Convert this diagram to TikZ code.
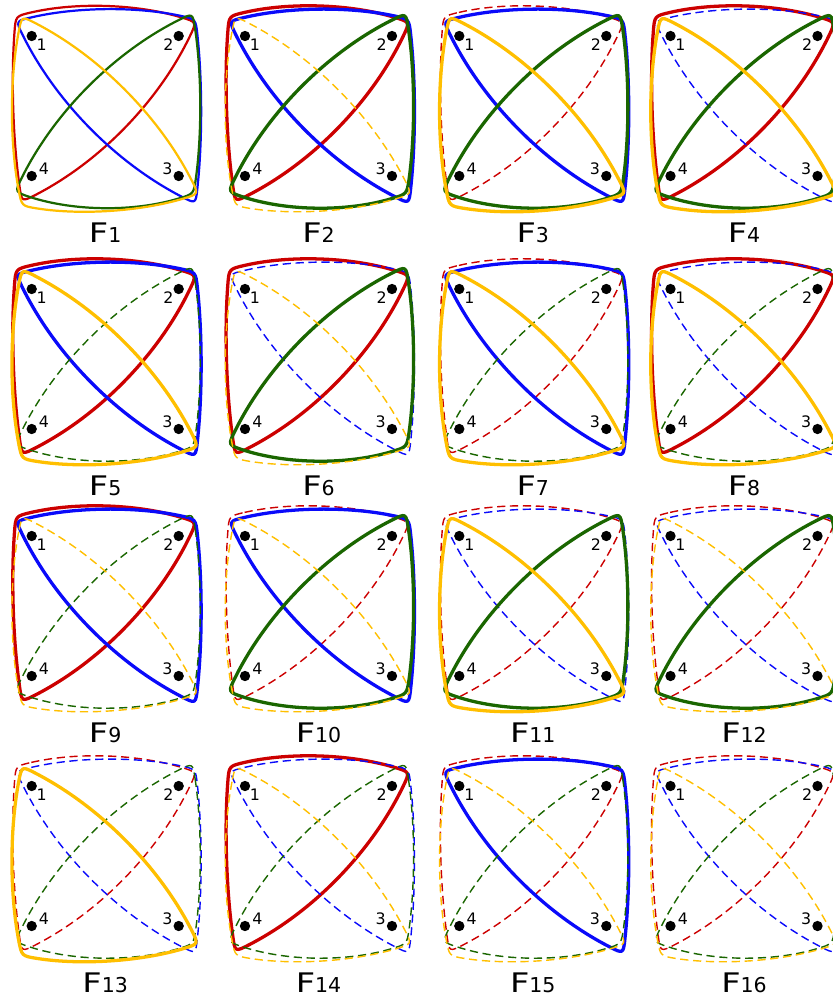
\documentclass[tikz,border=0pt]{standalone}
\usepackage{graphicx}
\usepackage{fontspec}
\setmainfont{DejaVu Sans}

\definecolor{loopred}{RGB}{204,0,0}
\definecolor{loopblue}{RGB}{10,10,250}
\definecolor{loopgreen}{RGB}{26,102,0}
\definecolor{loopyellow}{RGB}{255,191,0}

\tikzset{
  solidloop/.style={line width=2.8pt},
  thinloop/.style={line width=1.9pt},
  dashloop/.style={line width=1.2pt, dash pattern=on 7pt off 4pt},
  pointdot/.style={circle, fill=black, inner sep=0pt, minimum size=0.31cm},
  ptlabel/.style={inner sep=0pt, font=\fontsize{13.5}{13.5}\selectfont},
}

\begin{document}
\begin{tikzpicture}[x=0.03cm, y=-0.03cm, line join=round]
\useasboundingbox (0,0) rectangle (833,997);

% one panel per subset of solid loops: red, blue, green, yellow
\foreach \px/\py/\n/\sr/\sb/\sg/\sy in {
  31.7/36/1/thinloop/thinloop/thinloop/thinloop,
  245/36/2/solidloop/solidloop/solidloop/dashloop,
  459.3/36/3/dashloop/solidloop/solidloop/solidloop,
  670.5/36/4/solidloop/dashloop/solidloop/solidloop,
  31.7/289/5/solidloop/solidloop/dashloop/solidloop,
  245/289/6/solidloop/dashloop/solidloop/dashloop,
  459.3/289/7/dashloop/solidloop/dashloop/solidloop,
  670.5/289/8/solidloop/dashloop/dashloop/solidloop,
  31.7/536/9/solidloop/solidloop/dashloop/dashloop,
  245/536/10/dashloop/solidloop/solidloop/dashloop,
  459.3/536/11/dashloop/dashloop/solidloop/solidloop,
  670.5/536/12/dashloop/dashloop/solidloop/dashloop,
  31.7/786/13/dashloop/dashloop/dashloop/solidloop,
  245/786/14/solidloop/dashloop/dashloop/dashloop,
  459.3/786/15/dashloop/solidloop/dashloop/dashloop,
  670.5/786/16/dashloop/dashloop/dashloop/dashloop}{
\begin{scope}[shift={(\px,\py)}]
  % red loop: 1, 2, 4
  \draw[loopred, \sr] (-0.4,-23.6) .. controls (44.9,-34.0) and (105.2,-32.0) .. (149.7,-18.6)
    .. controls (165,-14) .. (158.1,0.4) .. controls (126.7,65.5) and (68.4,125.5) .. (4.2,158.7)
    .. controls (-10,166) .. (-12.2,150.2) .. controls (-18.7,104.2) and (-20.7,42.2) .. (-17.2,-4.0)
    .. controls (-16,-20) .. (-0.4,-23.6) -- cycle;
  % blue loop: 1, 2, 3
  \draw[loopblue, \sb] (-0.4,-18.6) .. controls (43.9,-29.0) and (103.9,-29.7) .. (148.3,-20.3)
    .. controls (164,-17) .. (165.7,-1.1) .. controls (170.7,44.7) and (170.7,106.3) .. (165.7,152.1)
    .. controls (164,168) .. (149.8,160.6) .. controls (84.0,126.6) and (24.0,65.6) .. (-8.9,-0.7)
    .. controls (-16,-15) .. (-0.4,-18.6) -- cycle;
  % green loop: 2, 3, 4
  \draw[loopgreen, \sg] (163.4,-7.2) .. controls (170.0,37.3) and (170.3,97.6) .. (164.2,142.2)
    .. controls (162,158) .. (146.7,162.6) .. controls (102.1,176.0) and (42.5,175.3) .. (-1.8,161.0)
    .. controls (-17,156) .. (-9.9,141.7) .. controls (22.5,76.6) and (81.8,16.9) .. (146.7,-15.8)
    .. controls (161,-23) .. (163.4,-7.2) -- cycle;
  % yellow loop: 1, 4, 3
  \draw[loopyellow, \sy] (-13.0,-4.3) .. controls (-22,43.3) and (-22,106.7) .. (-13.0,154.3)
    .. controls (-10,170) .. (5.8,172.5) .. controls (49.9,179.3) and (108.9,175.3) .. (151.7,162.6)
    .. controls (167,158) .. (159.7,143.8) .. controls (126.9,79.9) and (67.9,20.5) .. (4.2,-12.6)
    .. controls (-10,-20) .. (-13.0,-4.3) -- cycle;

  \node[pointdot] (a\n) at (0,0) {};
  \node[pointdot] (b\n) at (147,0) {};
  \node[pointdot] (c\n) at (147,140) {};
  \node[pointdot] (d\n) at (0,140) {};
  \node[ptlabel] (la\n) at (10,8.3) {1};
  \node[ptlabel] (lb\n) at (136.7,8.3) {2};
  \node[ptlabel] (lc\n) at (135.7,132.3) {3};
  \node[ptlabel] (ld\n) at (12.3,132.3) {4};
  \node[anchor=base, inner sep=0pt] (f\n) at (73.5,206)
    {{\fontsize{23}{23}\selectfont\scalebox{1.25}[1]{F}}{\fontsize{17.5}{17.5}\selectfont\n}};
\end{scope}
}
\end{tikzpicture}
\end{document}
